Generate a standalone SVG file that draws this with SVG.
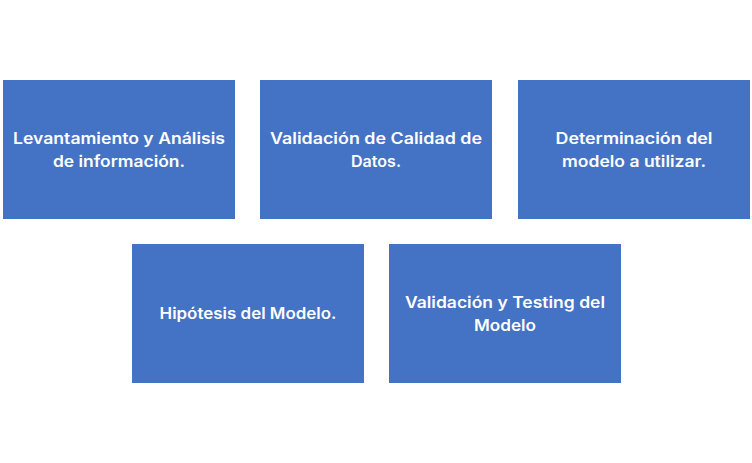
<svg xmlns="http://www.w3.org/2000/svg" width="752" height="463" viewBox="0 0 752 463">
<style>
.box{fill:#4472C4}
.t{font-family:Inter,"Open Sans","Liberation Sans",sans-serif;font-weight:600;font-size:15.5px;fill:#FFFFFF;text-anchor:middle}
</style>
<rect width="752" height="463" fill="#FFFFFF"/>
<g id="connectors"></g>
<g id="n1"><rect class="box" x="3" y="80" width="232" height="139"/>
<text class="t" x="119" y="144" textLength="212" lengthAdjust="spacingAndGlyphs">Levantamiento y Análisis</text>
<text class="t" x="119" y="166.5" textLength="132" lengthAdjust="spacingAndGlyphs">de información.</text></g>
<g id="n2"><rect class="box" x="260" y="80" width="232" height="139"/>
<text class="t" x="376" y="144" textLength="212" lengthAdjust="spacingAndGlyphs">Validación de Calidad de</text>
<text class="t" x="376" y="166.5" textLength="50" lengthAdjust="spacingAndGlyphs">Datos.</text></g>
<g id="n3"><rect class="box" x="518" y="80" width="232" height="139"/>
<text class="t" x="634" y="144" textLength="157" lengthAdjust="spacingAndGlyphs">Determinación del</text>
<text class="t" x="634" y="166.5" textLength="144" lengthAdjust="spacingAndGlyphs">modelo a utilizar.</text></g>
<g id="n4"><rect class="box" x="132" y="244" width="232" height="139"/>
<text class="t" x="248" y="319" textLength="177" lengthAdjust="spacingAndGlyphs">Hipótesis del Modelo.</text></g>
<g id="n5"><rect class="box" x="389" y="244" width="232" height="139"/>
<text class="t" x="505" y="308" textLength="200" lengthAdjust="spacingAndGlyphs">Validación y Testing del</text>
<text class="t" x="505" y="330.5" textLength="62" lengthAdjust="spacingAndGlyphs">Modelo</text></g>
</svg>
